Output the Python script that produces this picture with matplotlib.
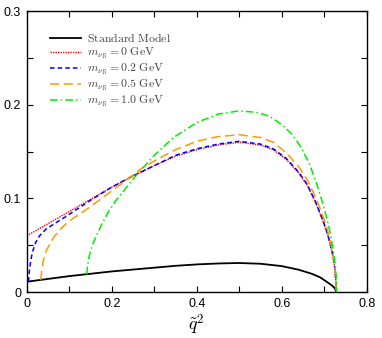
import matplotlib
matplotlib.use("Agg")
import matplotlib.pyplot as plt
from matplotlib.ticker import FixedLocator, FixedFormatter

plt.rcParams['mathtext.fontset'] = 'cm'
plt.rcParams['font.family'] = ['Liberation Sans', 'DejaVu Sans']

# Standard Model
sm_x = [0.0, 0.05, 0.1, 0.15, 0.2, 0.25, 0.3, 0.35, 0.4, 0.45, 0.5, 0.55,
        0.6, 0.64, 0.67, 0.69, 0.705, 0.715, 0.72, 0.724, 0.7265, 0.728]
sm_y = [0.011, 0.014, 0.017, 0.0195, 0.022, 0.024, 0.026, 0.028, 0.0295, 0.0305,
        0.031, 0.0302, 0.0277, 0.0238, 0.0196, 0.0158, 0.0112, 0.0080, 0.0063,
        0.0045, 0.0027, 0.0]

# m_nuR = 0 GeV
m0_x = [0.0, 0.05, 0.1, 0.15, 0.2, 0.25, 0.3, 0.35, 0.4, 0.45, 0.5, 0.55,
        0.58, 0.61, 0.64, 0.66, 0.68, 0.695, 0.706, 0.714, 0.719, 0.723,
        0.7255, 0.7272, 0.728]
m0_y = [0.060, 0.073, 0.086, 0.099, 0.112, 0.124, 0.135, 0.145, 0.152, 0.157,
        0.160, 0.157, 0.152, 0.142, 0.127, 0.114, 0.095, 0.078, 0.064, 0.051,
        0.041, 0.031, 0.022, 0.012, 0.0]

# m_nuR = 0.2 GeV
m2_x = [0.004, 0.006, 0.009, 0.013, 0.02, 0.03, 0.045, 0.065, 0.09, 0.12, 0.15,
        0.2, 0.25, 0.3, 0.35, 0.4, 0.45, 0.5, 0.55, 0.58, 0.61, 0.64, 0.66,
        0.68, 0.695, 0.706, 0.714, 0.719, 0.723, 0.7255, 0.7272, 0.728]
m2_y = [0.011, 0.022, 0.032, 0.042, 0.052, 0.060, 0.067, 0.073, 0.080, 0.089,
        0.098, 0.112, 0.124, 0.135, 0.146, 0.153, 0.158, 0.161, 0.158, 0.153,
        0.143, 0.128, 0.115, 0.096, 0.079, 0.065, 0.052, 0.042, 0.032, 0.023,
        0.013, 0.0]

# m_nuR = 0.5 GeV
m5_x = [0.033, 0.035, 0.038, 0.042, 0.047, 0.055, 0.063, 0.075, 0.09, 0.11,
        0.14, 0.17, 0.2, 0.235, 0.27, 0.3, 0.35, 0.4, 0.45, 0.5, 0.55, 0.58,
        0.61, 0.64, 0.66, 0.68, 0.695, 0.706, 0.714, 0.719, 0.723, 0.7255,
        0.7272, 0.728]
m5_y = [0.013, 0.022, 0.031, 0.039, 0.045, 0.052, 0.058, 0.065, 0.072, 0.079,
        0.088, 0.098, 0.108, 0.120, 0.132, 0.140, 0.152, 0.161, 0.166, 0.168,
        0.165, 0.160, 0.149, 0.134, 0.120, 0.101, 0.084, 0.069, 0.055, 0.045,
        0.034, 0.025, 0.014, 0.0]

# m_nuR = 1.0 GeV
m10_x = [0.141, 0.143, 0.146, 0.150, 0.156, 0.165, 0.176, 0.19, 0.21, 0.235,
         0.26, 0.3, 0.345, 0.4, 0.45, 0.5, 0.54, 0.57, 0.6, 0.625, 0.645,
         0.665, 0.682, 0.695, 0.706, 0.714, 0.72, 0.724, 0.7265, 0.728, 0.729]
m10_y = [0.019, 0.028, 0.036, 0.044, 0.052, 0.061, 0.072, 0.084, 0.098, 0.112,
         0.126, 0.146, 0.165, 0.181, 0.190, 0.1935, 0.192, 0.188, 0.179, 0.168,
         0.155, 0.137, 0.116, 0.097, 0.079, 0.063, 0.048, 0.036, 0.025, 0.016, 0.0]

fig = plt.figure(figsize=(3.82, 3.38), dpi=100)
ax = fig.add_axes([0.070, 0.136, 0.890, 0.831])

ax.plot(sm_x, sm_y, color='black', lw=1.3, label=r'$\mathrm{Standard\ Model}$')
ax.plot(m0_x, m0_y, color='#ff0000', lw=1.0, ls=(0, (1, 0.8)),
        label=r'$m_{\nu_R}=0\ \mathrm{GeV}$')
ax.plot(m2_x, m2_y, color='#0000ff', lw=1.1, ls=(0, (3, 2)),
        label=r'$m_{\nu_R}=0.2\ \mathrm{GeV}$')
ax.plot(m5_x, m5_y, color='#ff9900', lw=1.1, ls=(0, (6, 3)),
        label=r'$m_{\nu_R}=0.5\ \mathrm{GeV}$')
ax.plot(m10_x, m10_y, color='#00ee00', lw=1.1, ls=(0, (5, 2, 1, 2)),
        label=r'$m_{\nu_R}=1.0\ \mathrm{GeV}$')

ax.set_xlim(0, 0.8)
ax.set_ylim(0, 0.3)

ax.xaxis.set_major_locator(FixedLocator([0, 0.1, 0.2, 0.3, 0.4, 0.5, 0.6, 0.7, 0.8]))
ax.xaxis.set_major_formatter(FixedFormatter(['0', '', '0.2', '', '0.4', '', '0.6', '', '0.8']))
ax.yaxis.set_major_locator(FixedLocator([0, 0.05, 0.1, 0.15, 0.2, 0.25, 0.3]))
ax.yaxis.set_major_formatter(FixedFormatter(['0', '', '0.1', '', '0.2', '', '0.3']))
ax.tick_params(direction='in', top=True, right=True, length=4, width=0.8,
               labelsize=9, pad=4)
for s in ax.spines.values():
    s.set_linewidth(1.0)

ax.set_xlabel(r'$\tilde{q}^2$', fontsize=13, labelpad=2)

leg = ax.legend(loc='upper left', bbox_to_anchor=(0.045, 0.955), frameon=False,
                fontsize=8.5, handlelength=2.6, handletextpad=0.5,
                labelspacing=0.05, borderpad=0.2)
for t in leg.get_texts():
    t.set_color('#444444')

fig.savefig('out.png', dpi=100)
